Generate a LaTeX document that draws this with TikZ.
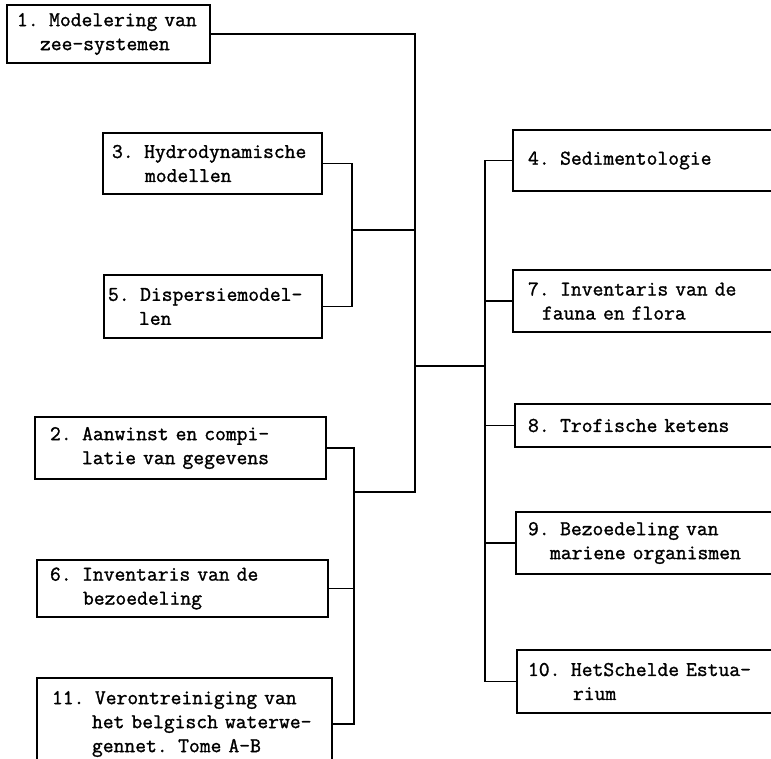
\documentclass[tikz,border=0pt]{standalone}
\usepackage{fontspec}
\newfontfamily\tw{Latin Modern Mono}[FakeBold=1.3]
\begin{document}
\begin{tikzpicture}[x=1pt,y=-1pt,
  bx/.style n args={3}{draw, line width=1.5pt, rectangle, align=left,
    text width={#1-2*#3}, minimum height=#2, inner xsep=#3, inner ysep=0pt,
    font=\tw\fontsize{21}{24}\selectfont},
  ln/.style={line width=1.5pt}]
\clip (0,0) rectangle (771,758);
\fill[white] (0,0) rectangle (771,758);
% left column
\node[bx={203pt}{58pt}{10pt}] (b1) at (108.5,34) {\mbox{1. Modelering van}\\\mbox{\hspace*{23pt}zee-systemen}};
\node[bx={219pt}{61pt}{9pt}] (b3) at (212.5,163.5) {\mbox{3. Hydrodynamische}\\\mbox{\hspace*{33pt}modellen}};
\node[bx={218pt}{63pt}{4pt}] (b5) at (213,306.5) {\mbox{5. Dispersiemodel-}\\\mbox{\hspace*{31pt}len}};
\node[bx={291pt}{62pt}{15pt}] (b2) at (180.5,448) {\mbox{2. Aanwinst en compi-}\\\mbox{\hspace*{32pt}latie van gegevens}};
\node[bx={291pt}{57pt}{13pt}] (b6) at (182.5,588.5) {\mbox{6. Inventaris van de}\\\mbox{\hspace*{33pt}bezoedeling}};
\node[bx={295pt}{92pt}{15pt}] (b11) at (184.5,724) {\mbox{11. Verontreiniging van}\\\mbox{\hspace*{40pt}het belgisch waterwe-}\\\mbox{\hspace*{40pt}gennet. Tome A-B}};
% right column
\node[bx={259pt}{61pt}{15pt}] (b4) at (642.5,160.5) {\mbox{4. Sedimentologie}};
\node[bx={259pt}{62pt}{15pt}] (b7) at (642.5,301) {\mbox{7. Inventaris van de}\\\mbox{\hspace*{14pt}fauna en flora}};
\node[bx={257pt}{43pt}{13pt}] (b8) at (643.5,425.5) {\mbox{8. Trofische ketens}};
\node[bx={256pt}{62pt}{12pt}] (b9) at (644,543) {\mbox{9. Bezoedeling van}\\\mbox{\hspace*{22pt}mariene organismen}};
\node[bx={255pt}{63pt}{11pt}] (b10) at (644.5,681.5) {\mbox{10. HetSchelde Estua-}\\\mbox{\hspace*{45pt}rium}};
% junctions
\coordinate (jA) at (415,492);
\coordinate (jL) at (354,492);
\coordinate (jM) at (352,230);
\coordinate (jR) at (485,366);
% connectors
\draw[ln] (b1.east) -| (jA) -- (jL);
\draw[ln] (jM) -- (jM -| jA);
\draw[ln] (jR) -- (jR -| jA);
\draw[ln] (b3.east) -| (jM) |- (b5.east);
\draw[ln] (b2.east) -| (jL) |- (b11.east);
\draw[ln] (b6.east) -- (b6.east -| jL);
\draw[ln] (b4.west) -| (jR) |- (b10.west);
\draw[ln] (b7.west) -- (b7.west -| jR);
\draw[ln] (b8.west) -- (b8.west -| jR);
\draw[ln] (b9.west) -- (b9.west -| jR);
\end{tikzpicture}
\end{document}
